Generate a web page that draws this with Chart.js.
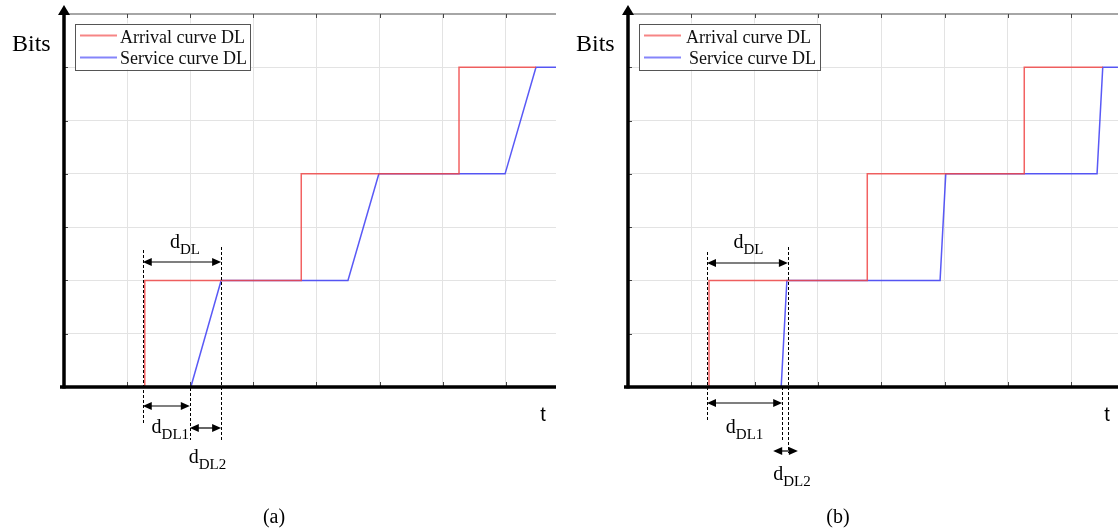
<!DOCTYPE html>
<html><head><meta charset="utf-8">
<script src="https://cdn.jsdelivr.net/npm/chart.js@4.4.1/dist/chart.umd.min.js"></script>
<style>
html,body{margin:0;padding:0;background:#fff;}
body{width:1118px;height:531px;overflow:hidden;position:relative;}
canvas{position:absolute;top:0;}
</style></head>
<body>
<canvas id="a" width="560" height="531" style="left:0px"></canvas>
<canvas id="b" width="558" height="531" style="left:560px"></canvas>
<script>
// ---- data (time units on x, bit units on y) ----
const arrivalA_x = [1.28, 1.28, 3.76, 3.76, 6.26, 6.26, 7.48];
const arrivalA_y = [0, 2, 2, 4, 4, 6, 6];
const serviceA_x = [2.01, 2.49, 4.50, 4.99, 6.99, 7.48, 7.80];
const serviceA_y = [0, 2, 2, 4, 4, 6, 6];

const arrivalB_x = [1.28, 1.28, 3.78, 3.78, 6.26, 6.26, 7.50];
const arrivalB_y = [0, 2, 2, 4, 4, 6, 6];
const serviceB_x = [2.42, 2.51, 4.93, 5.02, 7.41, 7.50, 7.74];
const serviceB_y = [0, 2, 2, 4, 4, 6, 6];

const legendLabels = ['Arrival curve DL', 'Service curve DL'];
const yAxisLabel = 'Bits';
const xAxisLabel = 't';
const panelLabels = ['(a)', '(b)'];
const delayMain = 'd';
const delaySubs = ['DL', 'DL1', 'DL2'];

const RED = 'rgba(240,70,70,0.85)';
const BLUE = 'rgba(60,60,245,0.85)';
const SERIF = '"Liberation Serif", "Times New Roman", serif';

// ---- per panel drawing config (pixel offsets only) ----
const figCfg = {
  a: {
    panel: panelLabels[0], ax: arrivalA_x, sx: serviceA_x,
    legendW: 175, arrivalTextDx: 0, serviceTextDx: 0,
    dash: { left: [-2, -137, 38], right: [0, -140, 55], mid: [-1, 1, 53] },
    arrows: { dl: -125, dl1: 19, dl2: 41, dl2Outer: false },
    labels: { dl: [3, -139], dl1: [4, 46], dl2: [2, 76] },
    tDx: -13
  },
  b: {
    panel: panelLabels[1], ax: arrivalB_x, sx: serviceB_x,
    legendW: 181, arrivalTextDx: 2, serviceTextDx: 5,
    dash: { left: [-2, -135, 35], right: [1, -140, 66], mid: [1, 0, 55] },
    arrows: { dl: -124, dl1: 16, dl2: 64, dl2Outer: true },
    labels: { dl: [1, -139], dl1: [0, 46], dl2: [7, 93] },
    tDx: -11
  }
};

function seg(ctx, x1, y1, x2, y2) { ctx.beginPath(); ctx.moveTo(x1, y1); ctx.lineTo(x2, y2); ctx.stroke(); }
function head(ctx, x, y, dir) {
  ctx.beginPath(); ctx.moveTo(x, y); ctx.lineTo(x - dir * 9, y - 4); ctx.lineTo(x - dir * 9, y + 4); ctx.closePath(); ctx.fill();
}
function dblArrow(ctx, x1, x2, y) {
  ctx.lineWidth = 1.2; ctx.setLineDash([]);
  seg(ctx, x1 + 3, y, x2 - 3, y);
  head(ctx, x1, y, -1); head(ctx, x2, y, 1);
}
function subLabel(ctx, cx, base, main, sub) {
  ctx.font = '20px ' + SERIF; const w1 = ctx.measureText(main).width;
  ctx.font = '15px ' + SERIF; const w2 = ctx.measureText(sub).width;
  const x = cx - (w1 + w2) / 2;
  ctx.textAlign = 'left'; ctx.textBaseline = 'alphabetic';
  ctx.font = '20px ' + SERIF; ctx.fillText(main, x, base);
  ctx.font = '15px ' + SERIF; ctx.fillText(sub, x + w1, base + 6);
}

const figPlugin = {
  id: 'fig',
  afterDatasetsDraw(chart) {
    const c = figCfg[chart.canvas.id];
    const ctx = chart.ctx, xs = chart.scales.x, ys = chart.scales.y, ca = chart.chartArea;
    const X = v => xs.getPixelForValue(v), Y = v => ys.getPixelForValue(v);
    const x0 = X(0), y0 = Y(0);
    ctx.save();
    // top frame line
    ctx.strokeStyle = '#a6a6a6'; ctx.lineWidth = 2;
    seg(ctx, x0 + 3, ca.top, ca.right, ca.top);
    // tick marks
    ctx.strokeStyle = '#444'; ctx.lineWidth = 1;
    for (let i = 1; i <= Math.floor(xs.max); i++) {
      const x = Math.round(X(i)) + 0.5;
      seg(ctx, x, ca.top, x, ca.top + 4);
      seg(ctx, x, y0, x, y0 - 5);
    }
    for (let j = 1; j < ys.max; j++) {
      const y = Math.round(Y(j)) + 0.5;
      seg(ctx, x0, y, x0 + 4, y);
    }
    // axes
    ctx.strokeStyle = '#000'; ctx.fillStyle = '#000'; ctx.lineWidth = 3.5;
    seg(ctx, x0 - 4, y0, ca.right, y0);
    seg(ctx, x0, y0 + 1.5, x0, ca.top - 3);
    ctx.beginPath(); ctx.moveTo(x0, ca.top - 9); ctx.lineTo(x0 - 6, ca.top + 1); ctx.lineTo(x0 + 6, ca.top + 1); ctx.closePath(); ctx.fill();

    // delay annotations derived from the curves
    const xa = X(c.ax[0]), xs0 = X(c.sx[0]), xs1 = X(c.sx[1]);
    const L = xa + c.dash.left[0], R = xs1 + c.dash.right[0], M = xs0 + c.dash.mid[0];
    ctx.lineWidth = 1; ctx.setLineDash([3, 2]); ctx.strokeStyle = '#000';
    seg(ctx, Math.round(L) + 0.5, y0 + c.dash.left[1], Math.round(L) + 0.5, y0 + c.dash.left[2]);
    seg(ctx, Math.round(R) + 0.5, y0 + c.dash.right[1], Math.round(R) + 0.5, y0 + c.dash.right[2]);
    seg(ctx, Math.round(M) + 0.5, y0 + c.dash.mid[1], Math.round(M) + 0.5, y0 + c.dash.mid[2]);
    ctx.setLineDash([]);
    dblArrow(ctx, L, R, y0 + c.arrows.dl);
    dblArrow(ctx, L, M, y0 + c.arrows.dl1);
    if (c.arrows.dl2Outer) dblArrow(ctx, M - 9, R + 10, y0 + c.arrows.dl2);
    else dblArrow(ctx, M, R, y0 + c.arrows.dl2);
    ctx.fillStyle = '#000';
    subLabel(ctx, (L + R) / 2 + c.labels.dl[0], y0 + c.labels.dl[1], delayMain, delaySubs[0]);
    subLabel(ctx, (L + M) / 2 + c.labels.dl1[0], y0 + c.labels.dl1[1], delayMain, delaySubs[1]);
    subLabel(ctx, (M + R) / 2 + c.labels.dl2[0], y0 + c.labels.dl2[1], delayMain, delaySubs[2]);

    // axis labels
    ctx.textBaseline = 'alphabetic';
    ctx.font = '24px ' + SERIF; ctx.textAlign = 'left';
    ctx.fillText(yAxisLabel, x0 - 52, ca.top + 37);
    ctx.font = '20px "Liberation Sans", Arial, sans-serif'; ctx.textAlign = 'center';
    ctx.fillText(xAxisLabel, ca.right + c.tDx, y0 + 34);
    ctx.font = '20px ' + SERIF; ctx.textAlign = 'center';
    ctx.fillText(c.panel, x0 + 210, 523);

    // legend box
    const lx = x0 + 11, ly = ca.top + 9.5;
    ctx.fillStyle = '#fff'; ctx.fillRect(lx, ly, c.legendW, 46);
    ctx.strokeStyle = '#555'; ctx.lineWidth = 1;
    ctx.strokeRect(Math.round(lx) + 0.5, Math.round(ly) + 0.5, c.legendW, 46);
    ctx.lineWidth = 2;
    ctx.strokeStyle = 'rgba(245,120,120,0.9)'; seg(ctx, lx + 5, ly + 12, lx + 42, ly + 12);
    ctx.strokeStyle = 'rgba(120,120,250,0.9)'; seg(ctx, lx + 5, ly + 34, lx + 42, ly + 34);
    ctx.fillStyle = '#111'; ctx.font = '18px ' + SERIF; ctx.textAlign = 'left';
    ctx.fillText(legendLabels[0], lx + 45 + c.arrivalTextDx, ly + 19);
    ctx.fillText(legendLabels[1], lx + 45 + c.serviceTextDx, ly + 40);
    ctx.restore();
  }
};

function toPts(xs, ys) { return xs.map((x, i) => ({ x: x, y: ys[i] })); }

function makeChart(id, ax, ay, sx, sy, xmax, pad) {
  return new Chart(document.getElementById(id), {
    type: 'scatter',
    data: {
      datasets: [
        { label: legendLabels[0], data: toPts(ax, ay), borderColor: RED, backgroundColor: RED,
          borderWidth: 1.5, showLine: true, pointRadius: 0, tension: 0, fill: false },
        { label: legendLabels[1], data: toPts(sx, sy), borderColor: BLUE, backgroundColor: BLUE,
          borderWidth: 1.5, showLine: true, pointRadius: 0, tension: 0, fill: false }
      ]
    },
    options: {
      responsive: false, animation: false, events: [],
      layout: { padding: pad },
      plugins: { legend: { display: false }, tooltip: { enabled: false } },
      scales: {
        x: { type: 'linear', min: 0, max: xmax, afterFit: s => { s.height = 0; },
             ticks: { display: false, stepSize: 1, includeBounds: false },
             grid: { color: '#e3e3e3', lineWidth: 1, drawTicks: false }, border: { display: false } },
        y: { type: 'linear', min: 0, max: 7, afterFit: s => { s.width = 0; },
             ticks: { display: false, stepSize: 1 },
             grid: { color: '#e3e3e3', lineWidth: 1, drawTicks: false }, border: { display: false } }
      }
    },
    plugins: [figPlugin]
  });
}

makeChart('a', arrivalA_x, arrivalA_y, serviceA_x, serviceA_y, 492 / 63.1, { left: 64, right: 4, top: 14, bottom: 144 });
makeChart('b', arrivalB_x, arrivalB_y, serviceB_x, serviceB_y, 490 / 63.3, { left: 68, right: 0, top: 14, bottom: 144 });
</script>
</body></html>
